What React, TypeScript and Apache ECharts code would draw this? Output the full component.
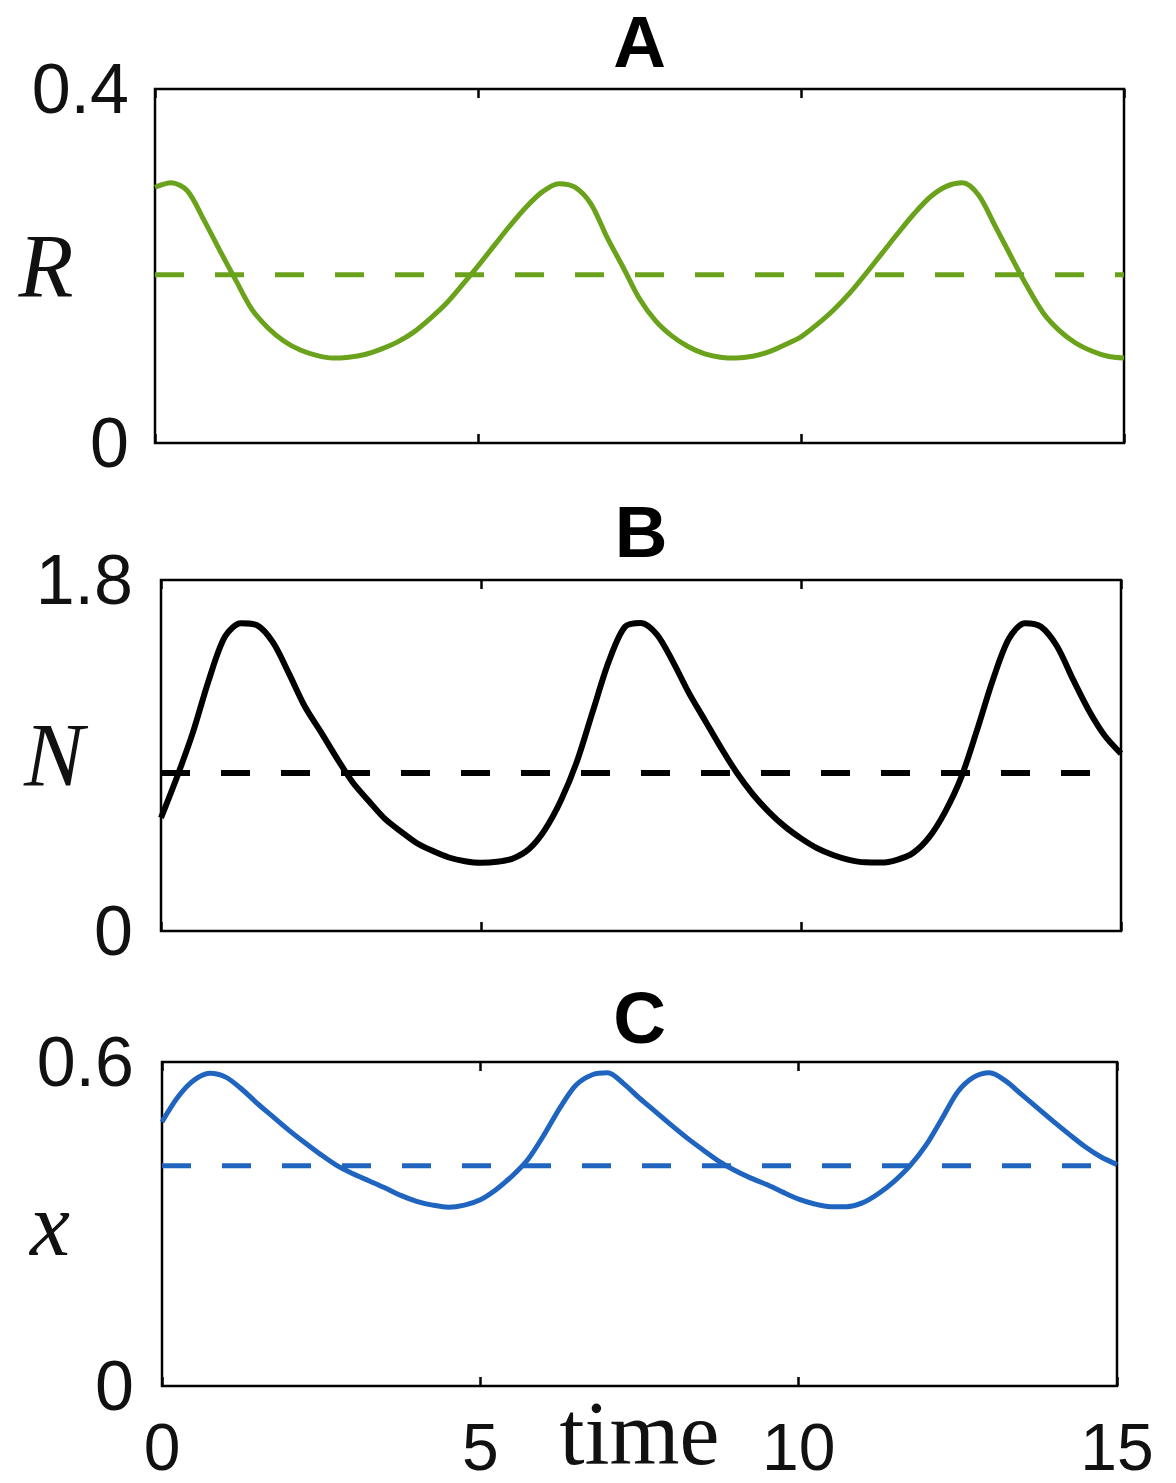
import { useEffect, useRef } from "react";
import * as echarts from "echarts";

// Shared time samples
const timePoints = [0, 0.25, 0.5, 0.75, 1, 1.25, 1.5, 1.75, 2, 2.25, 2.5, 2.75, 3, 3.25, 3.5, 3.75, 4, 4.25, 4.5, 4.75, 5, 5.25, 5.5, 5.75, 6, 6.25, 6.5, 6.75, 7, 7.25, 7.5, 7.75, 8, 8.25, 8.5, 8.75, 9, 9.25, 9.5, 9.75, 10, 10.25, 10.5, 10.75, 11, 11.25, 11.5, 11.75, 12, 12.25, 12.5, 12.75, 13, 13.25, 13.5, 13.75, 14, 14.25, 14.5, 14.75, 15];

// Panel A: R(t)
const rValues = [0.289, 0.294, 0.285, 0.253, 0.218, 0.184, 0.151, 0.13, 0.115, 0.105, 0.099, 0.096, 0.097, 0.1, 0.106, 0.114, 0.125, 0.14, 0.157, 0.178, 0.2, 0.223, 0.246, 0.267, 0.284, 0.293, 0.289, 0.27, 0.232, 0.198, 0.163, 0.138, 0.121, 0.109, 0.101, 0.097, 0.096, 0.098, 0.103, 0.111, 0.12, 0.134, 0.15, 0.169, 0.191, 0.214, 0.237, 0.259, 0.278, 0.29, 0.294, 0.28, 0.246, 0.211, 0.177, 0.147, 0.127, 0.113, 0.104, 0.098, 0.096];
const rEquilibrium = 0.19;

// Panel B: N(t)
const nValues = [0.58, 0.79, 1.02, 1.29, 1.51, 1.578, 1.568, 1.48, 1.32, 1.15, 1.02, 0.885, 0.76, 0.665, 0.575, 0.51, 0.45, 0.41, 0.377, 0.358, 0.35, 0.355, 0.372, 0.42, 0.52, 0.67, 0.87, 1.13, 1.385, 1.56, 1.58, 1.52, 1.38, 1.22, 1.08, 0.94, 0.81, 0.7, 0.61, 0.535, 0.475, 0.425, 0.39, 0.365, 0.352, 0.351, 0.365, 0.4, 0.48, 0.61, 0.785, 1.03, 1.29, 1.5, 1.578, 1.56, 1.46, 1.29, 1.13, 1.0, 0.91];
const nEquilibrium = 0.81;

// Panel C: x(t)
const xValues = [0.489, 0.535, 0.566, 0.579, 0.572, 0.55, 0.523, 0.498, 0.473, 0.45, 0.428, 0.408, 0.393, 0.38, 0.367, 0.353, 0.342, 0.335, 0.331, 0.335, 0.345, 0.364, 0.389, 0.42, 0.465, 0.515, 0.557, 0.576, 0.58, 0.56, 0.533, 0.508, 0.483, 0.459, 0.437, 0.416, 0.399, 0.385, 0.373, 0.359, 0.346, 0.337, 0.332, 0.332, 0.339, 0.356, 0.379, 0.408, 0.446, 0.495, 0.545, 0.572, 0.58, 0.565, 0.54, 0.515, 0.49, 0.466, 0.443, 0.424, 0.41];
const xEquilibrium = 0.408;

const panelTitles = ["A", "B", "C"];
const yNames = ["R", "N", "x"];
const yMax = [0.4, 1.8, 0.6];
const timeMax = 15;
const timeInterval = 5;

export default function App() {
  const ref = useRef<HTMLDivElement>(null);

  useEffect(() => {
    const chart = echarts.init(ref.current!, null, { renderer: "svg" });
    const pair = (v: number[]) => timePoints.map((t, i) => [t, v[i]]);

    const grids = [
      { left: 155, top: 89, width: 969, height: 354 },
      { left: 161, top: 580, width: 960, height: 351 },
      { left: 162, top: 1062, width: 955, height: 324 },
    ];
    const colors = ["#6aa31b", "#000000", "#1f65c0"];
    const widths = [5, 6, 5];
    const labelMargins = [26, 28, 28];
    const nameGaps = [109, 107, 112];
    const curves = [pair(rValues), pair(nValues), pair(xValues)];
    const eqs = [rEquilibrium, nEquilibrium, xEquilibrium];
    const titleY = [41, 531, 1017];

    const xAxes: any[] = [];
    const yAxes: any[] = [];
    const series: any[] = [];
    grids.forEach((g, i) => {
      const tick = { inside: true, length: 9, lineStyle: { color: "#000", width: 2.5 } };
      xAxes.push({
        type: "value",
        gridIndex: i,
        min: 0,
        max: timeMax,
        interval: timeInterval,
        position: "bottom",
        axisLine: { show: false },
        axisTick: tick,
        splitLine: { show: false },
        axisLabel: {
          show: i === 2,
          fontSize: 66,
          fontFamily: "Liberation Sans",
          color: "#111",
          margin: 61,
          verticalAlign: "middle",
        },
        name: i === 2 ? "time" : "",
        nameLocation: "middle",
        nameGap: 47,
        nameMoveOverlap: false,
        nameTextStyle: {
          fontFamily: "Liberation Serif",
          fontSize: 90,
          color: "#111",
          verticalAlign: "middle",
        },
      });
      xAxes.push({
        type: "value",
        gridIndex: i,
        min: 0,
        max: timeMax,
        interval: timeInterval,
        position: "top",
        axisLine: { show: false },
        axisTick: tick,
        splitLine: { show: false },
        axisLabel: { show: false },
      });
      yAxes.push({
        type: "value",
        gridIndex: i,
        min: 0,
        max: yMax[i],
        interval: yMax[i],
        axisLine: { show: false },
        axisTick: { show: false },
        splitLine: { show: false },
        axisLabel: {
          fontSize: 70,
          fontFamily: "Liberation Sans",
          color: "#111",
          margin: labelMargins[i],
          padding: [8, 0, 0, 0],
        },
        name: yNames[i],
        nameLocation: "middle",
        nameRotate: 0,
        nameGap: nameGaps[i],
        nameMoveOverlap: false,
        nameTextStyle: {
          fontFamily: "Liberation Serif",
          fontStyle: "italic",
          fontSize: 90,
          color: "#111",
          align: "center",
          verticalAlign: "middle",
        },
      });
      series.push({
        type: "line",
        xAxisIndex: 2 * i,
        yAxisIndex: i,
        data: curves[i],
        showSymbol: false,
        smooth: 0.3,
        lineStyle: { color: colors[i], width: widths[i] },
        z: 3,
      });
      series.push({
        type: "line",
        xAxisIndex: 2 * i,
        yAxisIndex: i,
        data: [
          [0, eqs[i]],
          [timeMax, eqs[i]],
        ],
        showSymbol: false,
        lineStyle: { color: colors[i], width: widths[i], type: [29, 31] },
        z: 2,
      });
    });

    chart.setOption({
      animation: false,
      backgroundColor: "#fff",
      grid: grids.map((g) => ({
        ...g,
        show: true,
        borderColor: "#000",
        borderWidth: 2.5,
        backgroundColor: "transparent",
        containLabel: false,
        outerBoundsMode: "none",
      })),
      xAxis: xAxes,
      yAxis: yAxes,
      series,
      graphic: panelTitles.map((t, i) => ({
        type: "text",
        x: grids[i].left + grids[i].width / 2,
        y: titleY[i],
        style: {
          text: t,
          font: 'bold 73px "Liberation Sans"',
          fill: "#000",
          align: "center",
          verticalAlign: "middle",
          textAlign: "center",
          textVerticalAlign: "middle",
        },
      })),
    });

    return () => chart.dispose();
  }, []);

  return (
    <div
      ref={ref}
      style={{ position: "absolute", left: 0, top: 0, width: 1176, height: 1483, background: "#fff" }}
    />
  );
}
